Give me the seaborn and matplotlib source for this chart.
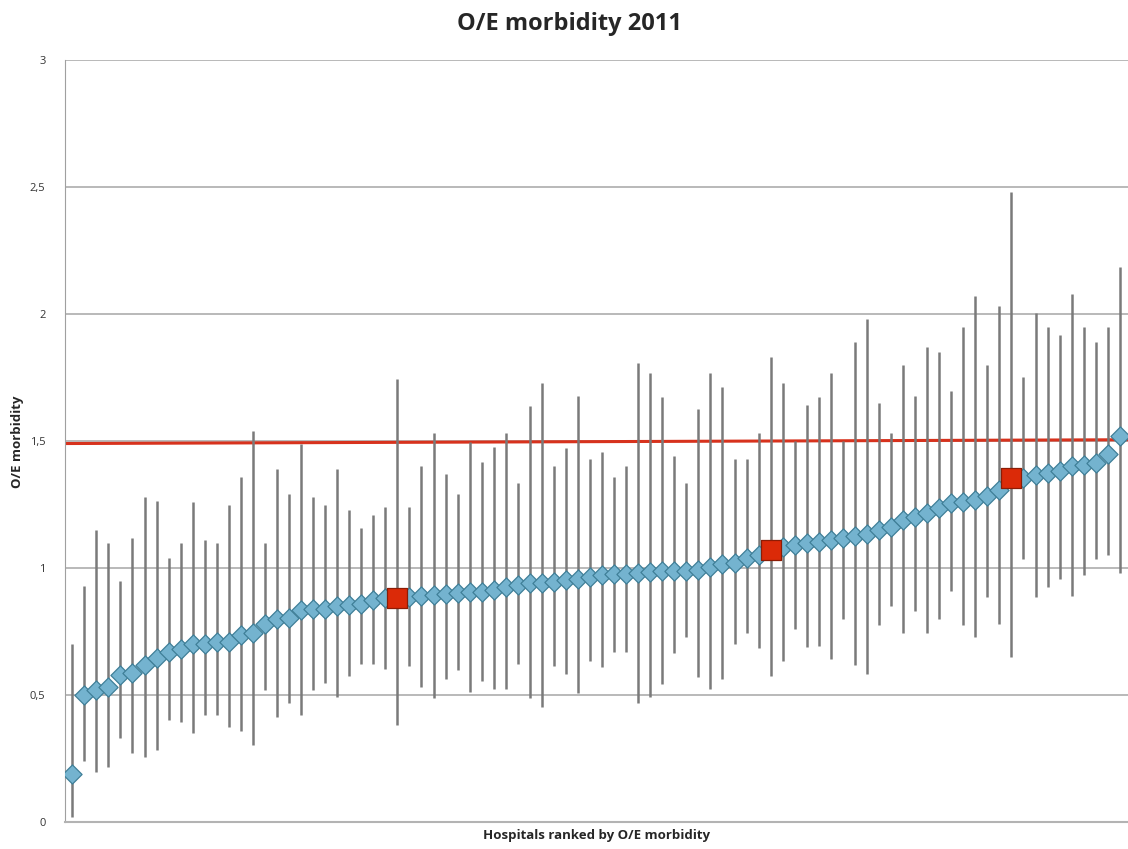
import numpy as np
import pandas as pd
import seaborn as sns
import matplotlib.pyplot as plt

# O/E morbidity per hospital, ranked, with 95% interval
oe = [0.19, 0.50, 0.52, 0.53, 0.58, 0.585, 0.62, 0.645, 0.67, 0.68,
      0.70, 0.70, 0.71, 0.71, 0.735, 0.745, 0.78, 0.80, 0.805, 0.835,
      0.84, 0.84, 0.85, 0.855, 0.86, 0.875, 0.88, 0.883, 0.887, 0.891,
      0.894, 0.898, 0.90, 0.905, 0.907, 0.915, 0.925, 0.935, 0.94, 0.94,
      0.946, 0.953, 0.955, 0.966, 0.972, 0.975, 0.978, 0.98, 0.983, 0.99,
      0.99, 0.99, 0.993, 1.005, 1.015, 1.02, 1.038, 1.05, 1.07, 1.083,
      1.09, 1.097, 1.104, 1.11, 1.117, 1.125, 1.132, 1.15, 1.163, 1.188,
      1.20, 1.215, 1.238, 1.255, 1.26, 1.267, 1.283, 1.307, 1.353, 1.355,
      1.366, 1.373, 1.38, 1.40, 1.406, 1.415, 1.45, 1.52]
ci_low = [0.02, 0.24, 0.195, 0.215, 0.33, 0.27, 0.255, 0.285, 0.40, 0.395,
          0.35, 0.42, 0.42, 0.375, 0.36, 0.305, 0.52, 0.415, 0.47, 0.42,
          0.52, 0.546, 0.493, 0.575, 0.622, 0.622, 0.601, 0.382, 0.614, 0.53,
          0.487, 0.562, 0.598, 0.511, 0.555, 0.522, 0.522, 0.621, 0.487, 0.454,
          0.614, 0.583, 0.507, 0.632, 0.61, 0.671, 0.671, 0.47, 0.491, 0.543,
          0.667, 0.727, 0.572, 0.522, 0.562, 0.701, 0.743, 0.684, 0.575, 0.634,
          0.76, 0.69, 0.692, 0.64, 0.80, 0.62, 0.581, 0.776, 0.85, 0.745,
          0.831, 0.745, 0.80, 0.911, 0.776, 0.73, 0.885, 0.78, 0.651, 1.034,
          0.885, 0.924, 0.955, 0.89, 0.972, 1.034, 1.051, 0.982]
ci_high = [0.70, 0.93, 1.15, 1.10, 0.95, 1.12, 1.28, 1.265, 1.04, 1.10,
           1.26, 1.11, 1.10, 1.25, 1.36, 1.54, 1.10, 1.39, 1.29, 1.49,
           1.28, 1.248, 1.389, 1.228, 1.156, 1.209, 1.239, 1.743, 1.239, 1.402,
           1.53, 1.369, 1.291, 1.497, 1.419, 1.478, 1.53, 1.336, 1.639, 1.73,
           1.402, 1.471, 1.677, 1.428, 1.458, 1.357, 1.402, 1.808, 1.769, 1.672,
           1.441, 1.336, 1.627, 1.769, 1.711, 1.428, 1.428, 1.53, 1.832, 1.73,
           1.50, 1.64, 1.672, 1.769, 1.50, 1.891, 1.979, 1.651, 1.53, 1.799,
           1.677, 1.871, 1.852, 1.698, 1.95, 2.071, 1.799, 2.031, 2.482, 1.751,
           2.005, 1.95, 1.917, 2.079, 1.95, 1.891, 1.95, 2.186]
highlighted = [28, 59, 79]          # ranks shown as red squares
ref_line = [1.49, 1.505]            # red reference line, left -> right
yticks = [0, 0.5, 1, 1.5, 2, 2.5, 3]
ytick_labels = ["0", "0,5", "1", "1,5", "2", "2,5", "3"]

df = pd.DataFrame({"rank": np.arange(1, len(oe) + 1), "oe": oe,
                   "lo": ci_low, "hi": ci_high})
df["highlight"] = df["rank"].isin(highlighted)

sns.set_style("white")
plt.rcParams["font.family"] = ["Open Sans", "DejaVu Sans"]

fig = plt.figure(figsize=(11.28, 8.49), dpi=100)
ax = fig.add_axes([65 / 1128, 27 / 849, 1 - 65 / 1128, 762 / 849])

xlim = (0.394, 88.68)
ax.set_xlim(*xlim)
ax.set_ylim(0, 3)

for y in yticks[1:]:
    ax.axhline(y, color="#b3b3b3", lw=1.3, zorder=0)

ax.plot(xlim, ref_line, color="#d7321d", lw=2.2, zorder=1)

ax.vlines(df["rank"], df["lo"], df["hi"], color="#7a7a7a", lw=1.8, zorder=2)

sns.scatterplot(data=df[~df["highlight"]], x="rank", y="oe", marker="D",
                s=95, color="#74b3cf", edgecolor="#3f7f98", linewidth=0.9,
                zorder=3, ax=ax)
sns.scatterplot(data=df[df["highlight"]], x="rank", y="oe", marker="s",
                s=190, color="#db2a08", edgecolor="#8c1c05", linewidth=0.9,
                zorder=4, ax=ax)

ax.set_xticks([])
ax.set_yticks(yticks)
ax.set_yticklabels(ytick_labels, fontsize=8, color="#333333")
ax.tick_params(axis="y", length=4, width=1, color="#999999", pad=10)

for side in ["top", "right"]:
    ax.spines[side].set_visible(False)
ax.spines["left"].set_color("#a0a0a0")
ax.spines["bottom"].set_color("#b3b3b3")
ax.spines["bottom"].set_linewidth(1.5)

ax.set_xlabel("Hospitals ranked by O/E morbidity", fontsize=9.5,
              fontweight="bold", labelpad=5)
ax.set_ylabel("")
fig.text(18 / 1128, 0.48, "O/E morbidity", rotation=90, ha="center",
         va="center", fontsize=9.5, fontweight="bold")
fig.text(0.505, 0.972, "O/E morbidity 2011", ha="center", va="center",
         fontsize=17, fontweight="bold")

fig.savefig("out.png", dpi=100)
